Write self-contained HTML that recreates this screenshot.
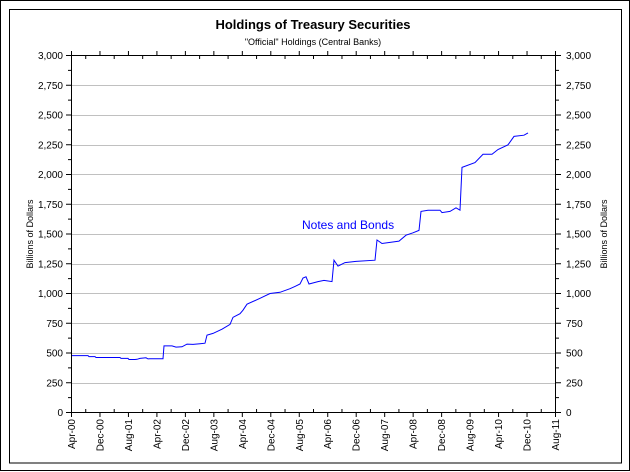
<!DOCTYPE html><html><head><style>body{margin:0;background:#fff}svg{display:block}text{font-family:"Liberation Sans",sans-serif}</style></head><body>
<svg width="630" height="472" viewBox="0 0 630 472">
<rect x="0.5" y="0.5" width="629" height="470" fill="#fff" stroke="#000"/>
<rect x="9.5" y="9.5" width="612" height="453.5" fill="#fff" stroke="#000"/>
<text x="313" y="29" text-anchor="middle" font-size="13" font-weight="bold">Holdings of Treasury Securities</text>
<text x="313" y="45" text-anchor="middle" font-size="9">"Official" Holdings (Central Banks)</text>
<g stroke="#c0c0c0" stroke-width="1">
<line x1="71.5" x2="555.5" y1="85.5" y2="85.5"/><line x1="71.5" x2="555.5" y1="115.5" y2="115.5"/><line x1="71.5" x2="555.5" y1="145.5" y2="145.5"/><line x1="71.5" x2="555.5" y1="174.5" y2="174.5"/><line x1="71.5" x2="555.5" y1="204.5" y2="204.5"/><line x1="71.5" x2="555.5" y1="234.5" y2="234.5"/><line x1="71.5" x2="555.5" y1="264.5" y2="264.5"/><line x1="71.5" x2="555.5" y1="293.5" y2="293.5"/><line x1="71.5" x2="555.5" y1="323.5" y2="323.5"/><line x1="71.5" x2="555.5" y1="353.5" y2="353.5"/><line x1="71.5" x2="555.5" y1="383.5" y2="383.5"/>
</g>
<rect x="71.5" y="55.5" width="484" height="357" fill="none" stroke="#000"/>
<g id="ticks" stroke="#000"></g>
<g id="labels" font-size="10"></g>
<text transform="translate(33,234) rotate(-90)" text-anchor="middle" font-size="9">Billions of Dollars</text>
<text transform="translate(607,234) rotate(-90)" text-anchor="middle" font-size="9">Billions of Dollars</text>
<text x="302" y="229" font-size="12" fill="#0000ff">Notes and Bonds</text>
<polyline id="ser" fill="none" stroke="#0000ff" stroke-width="1"/>
</svg>
<script>
var ns="http://www.w3.org/2000/svg",T=document.getElementById('ticks'),L=document.getElementById('labels');
function ln(x1,y1,x2,y2){var l=document.createElementNS(ns,'line');l.setAttribute('x1',x1);l.setAttribute('y1',y1);l.setAttribute('x2',x2);l.setAttribute('y2',y2);T.appendChild(l);}
function tx(x,y,s,a,r){var t=document.createElementNS(ns,'text');t.textContent=s;t.setAttribute('text-anchor',a);if(r)t.setAttribute('transform','translate('+x+','+y+') rotate(-90)');else{t.setAttribute('x',x);t.setAttribute('y',y);}L.appendChild(t);}
for(var i=0;i<=24;i++){var y=412.5-i*14.875;var maj=i%2==0;ln(maj?66:68,y,71.5,y);ln(555.5,y,maj?561:559,y);
if(maj){var v=(i/2*250).toLocaleString('en-US');tx(63,y+3.5,v,'end');tx(566,y+3.5,v,'start');}}
var labs=['Apr-00','Dec-00','Aug-01','Apr-02','Dec-02','Aug-03','Apr-04','Dec-04','Aug-05','Apr-06','Dec-06','Aug-07','Apr-08','Dec-08','Aug-09','Apr-10','Dec-10','Aug-11'];
for(var i=0;i<=34;i++){var x=71.5+i*484/34;if(i%2==0){ln(x,412.5,x,417);ln(x,55.5,x,51);tx(x+3.5,419,labs[i/2],'end',1);}else{ln(x,412.5,x,409);ln(x,55.5,x,59);}}
var d=[[72,478],[88,478],[89,470],[95,470],[96,462],[120,462],[121,455],[128,455],[129,445],[135,445],[137,447],[140,455],[146,460],[148,450],[150,452],[163,452],[164,560],[172,560],[176,550],[182,552],[187,575],[193,572],[200,578],[205,582],[207,650],[213,665],[222,700],[230,740],[233,800],[240,830],[243,860],[247,910],[260,960],[270,1000],[280,1010],[290,1040],[295,1060],[300,1080],[303,1130],[306,1140],[309,1080],[318,1100],[324,1110],[332,1100],[334,1280],[338,1230],[345,1260],[356,1270],[375,1280],[377,1450],[382,1420],[399,1440],[406,1490],[413,1510],[419,1530],[421,1690],[428,1700],[440,1700],[442,1680],[450,1690],[456,1720],[460,1700],[462,2060],[475,2100],[483,2170],[492,2170],[498,2210],[508,2250],[514,2320],[524,2330],[528,2350]];
var p=d.map(function(a){return a[0]+','+(412.5-a[1]*0.119).toFixed(1)}).join(' ');
document.getElementById('ser').setAttribute('points',p);
</script>
</body></html>
